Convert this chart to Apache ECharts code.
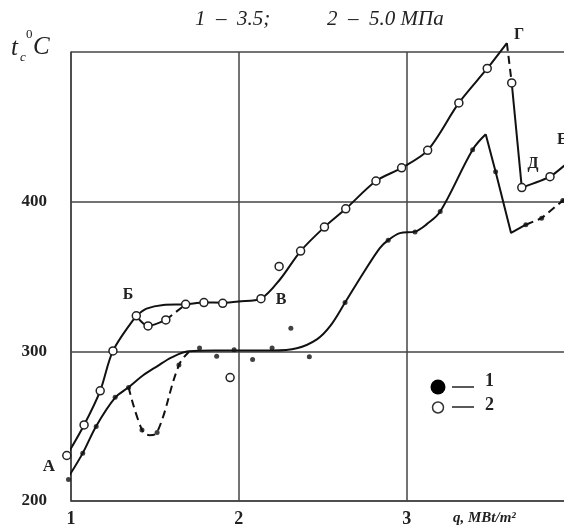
<!DOCTYPE html>
<html><head><meta charset="utf-8">
<script src="https://cdn.jsdelivr.net/npm/echarts@6/dist/echarts.min.js"></script>
<style>html,body{margin:0;padding:0;background:#fff}#c{width:564px;height:528px}</style>
</head><body><div id="c"></div>
<script>
// ---- data ----
var xTicks = [1, 2, 3];
var yTicks = [200, 300, 400];
// series 1 (3.5 MPa) measured points (filled)
var pts1 = [[0.985,214.3],[1.07,231.9],[1.15,249.7],[1.263,269.3],[1.343,275.9],[1.423,247.5],[1.513,245.8],[1.643,290.8],
  [1.766,302.2],[1.868,296.7],[1.972,301.1],[2.082,294.5],[2.198,302.2],[2.31,315.4],[2.42,296.3],[2.633,332.6],
  [2.89,374.3],[3.05,379.8],[3.2,393.4],[3.393,434.7],[3.53,420],[3.71,384.6],[3.804,389],[3.93,400.7]];
// series 2 (5.0 MPa) measured points (open)
var pts2 = [[0.975,230.4],[1.078,250.8],[1.174,273.6],[1.25,300.3],[1.389,323.7],[1.459,317],[1.565,321],[1.683,331.4],
  [1.792,332.6],[1.904,332.1],[1.948,282.5],[2.132,335.2],[2.24,356.7],[2.368,367],[2.51,383],[2.637,395.2],[2.817,413.8],
  [2.97,422.6],[3.125,434.3],[3.311,466],[3.48,489],[3.626,479.3],[3.686,409.4],[3.854,416.7]];
// fitted curves, series 1
var c1Main = [[0.99,217],[1.07,232],[1.15,250],[1.263,269],[1.343,276],[1.43,284],[1.513,290],[1.6,296],[1.702,300],
  [1.85,300.5],[2.0,300.5],[2.2,300.5],[2.345,302],[2.465,308],[2.545,317],[2.633,332.6],[2.74,352],[2.84,369],[2.89,374.3],
  [2.96,379],[3.05,380],[3.12,385],[3.2,393.4],[3.393,434.7],[3.471,445]];
var c1Drop = [[3.471,445],[3.53,420],[3.622,379.1],[3.71,384.6]];
var c1Tail = [[3.71,384.6],[3.804,389],[3.93,400.7],[3.99,405]];
var c1Dip = [[1.343,276],[1.423,247.5],[1.468,244],[1.513,245.8],[1.643,290.8],[1.702,299.6]];
// fitted curves, series 2
var c2Rise = [[0.975,230.4],[1.078,250.8],[1.174,273.6],[1.25,300.3],[1.389,323.7]];
var c2Main = [[1.389,323.7],[1.45,328.5],[1.55,331],[1.683,331.4],[1.792,332.6],[1.904,332.5],[2.0,333.3],[2.132,335.2],
  [2.245,348],[2.368,367],[2.51,383],[2.637,395.2],[2.817,413.8],[2.97,422.6],[3.125,434.3],[3.311,466],[3.48,489],[3.597,506]];
var c2Low = [[1.389,323.7],[1.459,317],[1.565,321]];
var c2LowDash = [[1.565,321],[1.683,331.4]];
var c2PeakDash = [[3.597,506],[3.626,479.3]];
var c2Fall = [[3.626,479.3],[3.686,409.4]];
var c2End = [[3.686,409.4],[3.854,416.7],[3.97,427]];

var serif = '"Liberation Serif","DejaVu Serif",serif';
function ln(data, dashed, smooth) {
  return {type:'line', data:data, showSymbol:false, symbol:'none', clip:false, smooth:smooth||0,
    lineStyle:{color:'#111', width:2, type: dashed ? [8,5] : 'solid'}, silent:true, z:3};
}
var chart = echarts.init(document.getElementById('c'));
chart.setOption({
  animation:false,
  grid:{left:71, top:52, width:503.5, height:449, outerBoundsMode:'none', containLabel:false},
  xAxis:{type:'value', min:1, max:4, interval:1,
    axisLine:{show:true, lineStyle:{color:'#444', width:1.5}}, axisTick:{show:false},
    splitLine:{show:true, lineStyle:{color:'#444', width:1.5}},
    axisLabel:{fontFamily:serif, fontWeight:'bold', fontSize:18, color:'#222', margin:9,
      formatter:function(v){return xTicks.indexOf(v)>=0 ? String(v) : '';}}},
  yAxis:{type:'value', min:200, max:500, interval:100,
    axisLine:{show:true, lineStyle:{color:'#444', width:1.5}}, axisTick:{show:false},
    splitLine:{show:true, lineStyle:{color:'#444', width:1.5}},
    axisLabel:{fontFamily:serif, fontWeight:'bold', fontSize:17, color:'#222', margin:24,
      formatter:function(v){return yTicks.indexOf(v)>=0 ? String(v) : '';}}},
  series:[
    ln(c1Main,false,0.35), ln(c1Drop,false,0), ln(c1Tail,true,0), ln(c1Dip,true,0.4),
    ln(c2Rise,false,0.3), ln(c2Main,false,0.3), ln(c2Low,false,0.3), ln(c2LowDash,true,0),
    ln(c2PeakDash,true,0), ln(c2Fall,false,0), ln(c2End,false,0.2),
    {name:'1', type:'scatter', data:pts1, symbol:'circle', symbolSize:5, clip:false,
      itemStyle:{color:'#111'}, z:5},
    {name:'2', type:'scatter', data:pts2, symbol:'circle', symbolSize:8, clip:false,
      itemStyle:{color:'#fff', borderColor:'#222', borderWidth:1.5, opacity:1}, z:6}
  ],
  graphic:[
    {type:'text', left:195, top:9, style:{text:'1  –  3.5;', font:'italic 21px '+serif, fill:'#222'}},
    {type:'text', left:327, top:9, style:{text:'2  –  5.0 МПа', font:'italic 21px '+serif, fill:'#222'}},
    {type:'text', x:11, y:48, style:{text:'t', font:'italic 25px '+serif, fill:'#222', verticalAlign:'middle'}},
    {type:'text', x:20, y:58, style:{text:'c', font:'italic 13px '+serif, fill:'#222', verticalAlign:'middle'}},
    {type:'text', x:26, y:35, style:{text:'0', font:'13px '+serif, fill:'#222', verticalAlign:'middle'}},
    {type:'text', x:33, y:47, style:{text:'C', font:'italic 25px '+serif, fill:'#222', verticalAlign:'middle'}},
    {type:'text', x:453, y:518, style:{text:'q, MBt/m²', font:'bold italic 15px '+serif, fill:'#222', verticalAlign:'middle'}},
    {type:'text', x:49, y:467, style:{text:'А', font:'bold 17px '+serif, fill:'#222', align:'center', verticalAlign:'middle'}},
    {type:'text', x:128, y:295, style:{text:'Б', font:'bold 16px '+serif, fill:'#222', align:'center', verticalAlign:'middle'}},
    {type:'text', x:281, y:300, style:{text:'В', font:'bold 16px '+serif, fill:'#222', align:'center', verticalAlign:'middle'}},
    {type:'text', x:519, y:35, style:{text:'Г', font:'bold 16px '+serif, fill:'#222', align:'center', verticalAlign:'middle'}},
    {type:'text', x:533, y:164, style:{text:'Д', font:'bold 16px '+serif, fill:'#222', align:'center', verticalAlign:'middle'}},
    {type:'text', x:557, y:140, style:{text:'Е', font:'bold 16px '+serif, fill:'#222', verticalAlign:'middle'}},
    // legend
    {type:'circle', shape:{cx:438, cy:387, r:7.5}, style:{fill:'#000'}},
    {type:'line', shape:{x1:452, y1:387, x2:474, y2:387}, style:{stroke:'#222', lineWidth:1.5}},
    {type:'text', x:485, y:381, style:{text:'1', font:'bold 18px '+serif, fill:'#222', verticalAlign:'middle'}},
    {type:'circle', shape:{cx:438, cy:407.5, r:5.5}, style:{fill:'#fff', stroke:'#333', lineWidth:1.5}},
    {type:'line', shape:{x1:452, y1:407, x2:474, y2:407}, style:{stroke:'#222', lineWidth:1.5}},
    {type:'text', x:485, y:405, style:{text:'2', font:'bold 18px '+serif, fill:'#222', verticalAlign:'middle'}}
  ]
});
</script>
</body></html>
